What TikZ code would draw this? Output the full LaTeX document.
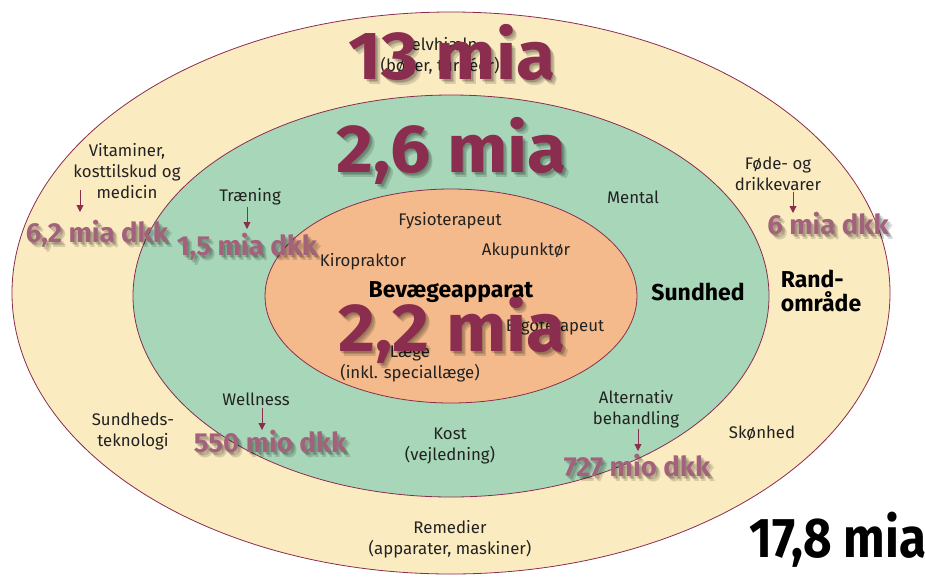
\documentclass[tikz,border=0pt]{standalone}
\usepackage{fontspec}
\setmainfont{Fira Sans}
\usetikzlibrary{arrows.meta,calc}

\definecolor{cream}{HTML}{FBEBC0}
\definecolor{mint}{HTML}{A7D7B8}
\definecolor{peach}{HTML}{F4BA8B}
\definecolor{rim}{HTML}{8A2D4F}
\definecolor{wine}{HTML}{8A2D4F}
\definecolor{rose}{HTML}{A3627B}
\definecolor{ink}{HTML}{222222}

\tikzset{
  ring/.style={draw=rim, line width=0.8pt},
  lbl/.style={font=\fontsize{16.8}{21}\selectfont, align=center, text=ink, inner sep=0pt},
  head/.style={font=\bfseries\fontsize{23}{24}\selectfont, align=left, text=black, inner sep=0pt},
  big/.style={font=\bfseries\fontsize{68}{68}\selectfont, text=wine, inner sep=0pt},
  dkk/.style={font=\bfseries\fontsize{27.5}{27.5}\selectfont, text=rose, inner sep=0pt},
  shade/.style={text=black, text opacity=0.14},
  arr/.style={draw=wine, line width=0.9pt, -{Triangle[length=7pt,width=7pt]}},
}

% text node with a soft drop shadow underneath
\newcommand\shadowed[4]{%
  \foreach \d in {1.5,3,4.5} {\node[#1, shade] at ($(#3)+(\d,\d)$) {#4};}
  \node[#1] (#2) at (#3) {#4};
}
% bold figure, slightly widened
\newcommand\wide[1]{\scalebox{1.05}[1]{#1}}

\begin{document}
\begin{tikzpicture}[x=1pt, y=-1pt]
  \useasboundingbox (0,0) rectangle (925,576);
  \clip (0,0) rectangle (925,576);
  \fill[white] (0,0) rectangle (925,576);

  % the three markets as nested ellipses
  \filldraw[ring, fill=cream] (451,293) ellipse [x radius=439pt, y radius=281pt];
  \filldraw[ring, fill=mint]  (451,296) ellipse [x radius=318pt, y radius=201pt];
  \filldraw[ring, fill=peach] (451,296) ellipse [x radius=186pt, y radius=107pt];

  % outer ring labels
  \node[lbl] (selv) at (440,56) {Selvhjælp\\(bøger, turnéer)};
  \node[lbl] (vit)  at (127,171) {Vitaminer,\\kosttilskud og\\medicin};
  \node[lbl] (fode) at (778,174) {Føde- og\\drikkevarer};
  \node[lbl] (tek)  at (133,431) {Sundheds-\\teknologi};
  \node[lbl] (skon) at (762,433) {Skønhed};
  \node[lbl] (rem)  at (450,539) {Remedier\\(apparater, maskiner)};
  \node[head] (rand) at (821,291) {Rand-\\område};

  % middle ring labels
  \node[lbl] (tren) at (250,197) {Træning};
  \node[lbl] (ment) at (633,197) {Mental};
  \node[lbl] (well) at (256,399) {Wellness};
  \node[lbl] (kost) at (450,446) {Kost\\(vejledning)};
  \node[lbl] (alt)  at (636,409) {Alternativ\\behandling};
  \node[head] (sund) at (698,292) {Sundhed};

  % inner ellipse labels
  \node[lbl] (fys)  at (450,221) {Fysioterapeut};
  \node[lbl] (aku)  at (526,251) {Akupunktør};
  \node[lbl] (kir)  at (363,262) {Kiropraktor};
  \node[lbl] (ergo) at (555,327) {Ergoterapeut};
  \node[lbl] (laege) at (410,364) {Læge\\(inkl. speciallæge)};

  % market sizes
  \shadowed{big}{m13}{452,53}{\wide{13 mia}}
  \shadowed{big}{m26}{452,151}{\wide{2,6 mia}}
  \shadowed{big}{m22}{452,330}{\wide{2,2 mia}}
  \node[head] (bev) at (451,292) {Bevægeapparat};
  \node[font=\bfseries\fontsize{56}{56}\selectfont, text=black, inner sep=0pt] (tot) at (838,540)
    {\scalebox{0.88}[1]{17,8 mia}};

  % segment figures
  \shadowed{dkk}{d62}{97,234}{6,2 mia dkk}
  \shadowed{dkk}{d15}{247,247}{1,5 mia dkk}
  \shadowed{dkk}{d6}{828,224}{6 mia dkk}
  \shadowed{dkk}{d550}{270,442}{550 mio dkk}
  \shadowed{dkk}{d727}{637,466}{727 mio dkk}

  % pointers from segment to figure
  \coordinate (p1a) at (80,190);  \coordinate (p1b) at (80,212);
  \coordinate (p2a) at (247,207); \coordinate (p2b) at (247,229);
  \coordinate (p3a) at (793,192); \coordinate (p3b) at (793,213);
  \coordinate (p4a) at (262,408); \coordinate (p4b) at (262,430);
  \coordinate (p5a) at (638,429); \coordinate (p5b) at (638,451);
  \draw[arr] (p1a) -- (p1b);
  \draw[arr] (p2a) -- (p2b);
  \draw[arr] (p3a) -- (p3b);
  \draw[arr] (p4a) -- (p4b);
  \draw[arr] (p5a) -- (p5b);
\end{tikzpicture}
\end{document}
